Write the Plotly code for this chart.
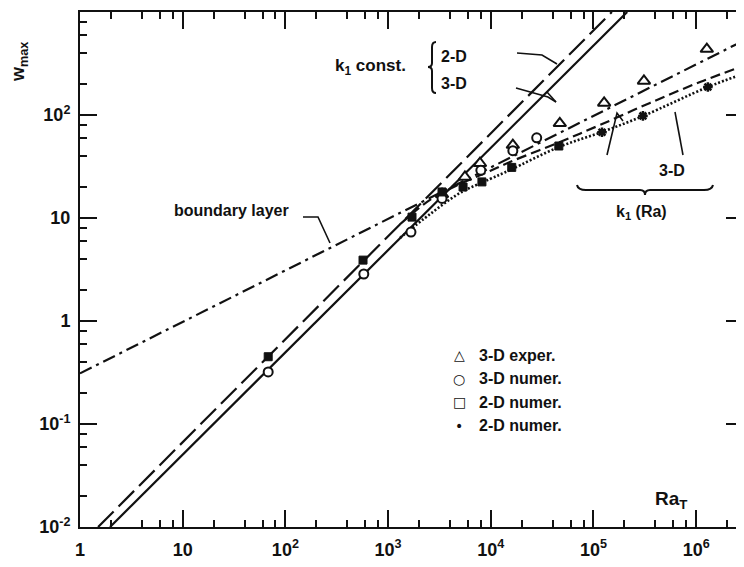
import plotly.graph_objects as go

# ---------------- data ----------------
ra_3d_exp = [3350, 5600, 7850, 16400, 47000, 127000, 310000, 1270000]
w_3d_exp = [17, 25, 34, 51, 83, 131, 214, 437]

ra_3d_num = [68, 580, 1670, 3350, 8000, 16400, 28000]
w_3d_num = [0.32, 2.86, 7.3, 15.5, 29, 45, 60]

ra_2d_num_sq = [68, 570, 1710, 3350, 5370, 8200, 16000, 46000]
w_2d_num_sq = [0.45, 3.9, 10.2, 17.9, 20, 22.4, 31, 50]

ra_2d_num_dot = [121000, 303000, 1300000]
w_2d_num_dot = [68, 98, 187]

ra_k1const_2d = [1.5, 151000]
w_k1const_2d = [0.01, 1000]
ra_k1const_3d = [1.96, 213000]
w_k1const_3d = [0.01, 1000]

ra_boundary = [1, 2.86e6]
w_boundary = [0.31, 524]

ra_k1ra_2d = [1306, 2559, 5012, 9817, 15380, 47200, 115700, 354800, 1090000, 2860000]
w_k1ra_2d = [8.7, 15.0, 21.4, 28.6, 35, 54.7, 80, 131, 209, 299]
ra_k1ra_3d = [1306, 2559, 5012, 9817, 15380, 46100, 121000, 303000, 1300000, 2860000]
w_k1ra_3d = [6.4, 10.9, 17.5, 23.9, 29.2, 48.9, 68.4, 97.7, 187, 250]

x_tickvals = [1, 10, 100, 1e3, 1e4, 1e5, 1e6]
x_ticktext = ["1", "10", "10<sup>2</sup>", "10<sup>3</sup>", "10<sup>4</sup>",
              "10<sup>5</sup>", "10<sup>6</sup>"]
y_tickvals = [1e-2, 1e-1, 1, 10, 100, 1000]
y_ticktext = ["10<sup>-2</sup>", "10<sup>-1</sup>", "1", "10", "10<sup>2</sup>", "10<sup>3</sup>"]

# ---------------- layout geometry ----------------
# the page body has an 8px default margin, so the figure is 8px smaller
OFF = 8
W, H = 744 - OFF, 567 - OFF
L, R, T, B = 80 - OFF, 1, 12 - OFF, 40
PX0, PX1 = 80, 743      # plot area in page pixels
PY0, PY1 = 12, 527


def px(x):
    return (x - PX0) / (PX1 - PX0)


def py(y):
    return (PY1 - y) / (PY1 - PY0)


FONT = "Liberation Sans, Arial, sans-serif"
SYMFONT = "DejaVu Sans"
BLACK = "#111111"

fig = go.Figure()

lw = 2.2
fig.add_trace(go.Scatter(x=ra_boundary, y=w_boundary, mode="lines",
                         line=dict(color=BLACK, width=lw, dash="13px,5px,3px,5px")))
fig.add_trace(go.Scatter(x=ra_k1const_2d, y=w_k1const_2d, mode="lines",
                         line=dict(color=BLACK, width=lw, dash="22px,7px")))
fig.add_trace(go.Scatter(x=ra_k1const_3d, y=w_k1const_3d, mode="lines",
                         line=dict(color=BLACK, width=lw)))
fig.add_trace(go.Scatter(x=ra_k1ra_2d, y=w_k1ra_2d, mode="lines",
                         line=dict(color=BLACK, width=lw, dash="10px,5px", shape="spline")))
fig.add_trace(go.Scatter(x=ra_k1ra_3d, y=w_k1ra_3d, mode="lines",
                         line=dict(color=BLACK, width=2.6, dash="2px,2px", shape="spline")))

fig.add_trace(go.Scatter(x=ra_3d_exp, y=w_3d_exp, mode="markers",
                         marker=dict(symbol="triangle-up", size=11, color="white",
                                     line=dict(color=BLACK, width=2))))
fig.add_trace(go.Scatter(x=ra_3d_num, y=w_3d_num, mode="markers",
                         marker=dict(symbol="circle", size=9, color="white",
                                     line=dict(color=BLACK, width=2))))
fig.add_trace(go.Scatter(x=ra_2d_num_sq, y=w_2d_num_sq, mode="markers",
                         marker=dict(symbol="square", size=8, color=BLACK,
                                     line=dict(color=BLACK, width=1))))
fig.add_trace(go.Scatter(x=ra_2d_num_dot, y=w_2d_num_dot, mode="markers",
                         marker=dict(symbol="asterisk-open", size=8, color=BLACK,
                                     line=dict(color=BLACK, width=2.5))))

minor_vals = []
for e in range(-3, 8):
    for m in (2, 4, 6, 8):
        minor_vals.append(m * 10 ** e)

axis_common = dict(
    type="log", showgrid=False, zeroline=False, automargin=False,
    showline=True, linecolor=BLACK, linewidth=2, mirror="ticks",
    ticks="inside", ticklen=17, tickwidth=2, tickcolor=BLACK,
    tickfont=dict(family=FONT, size=18, color=BLACK, weight="bold"),
    minor=dict(ticks="inside", ticklen=7, tickwidth=2, tickcolor=BLACK,
               tickvals=minor_vals, showgrid=False),
)

fig.update_xaxes(range=[0, 6.456], tickvals=x_tickvals, ticktext=x_ticktext,
                 ticklabelstandoff=5, **axis_common)
fig.update_yaxes(range=[-2, 3], tickvals=y_tickvals, ticktext=y_ticktext,
                 ticklabelstandoff=4, **axis_common)

ann = []


def text(x, y, s, size=16, xanchor="center", angle=0, bold=True, family=FONT):
    ann.append(dict(x=px(x), y=py(y), xref="paper", yref="paper", text=s,
                    showarrow=False, xanchor=xanchor, yanchor="middle",
                    textangle=angle,
                    font=dict(family=family, size=size, color=BLACK,
                              weight="bold" if bold else "normal")))


text(20, 62, "w<sub>max</sub>", size=18, angle=-90)
text(653, 500, "Ra<sub>T</sub>", size=19, xanchor="left")
text(333, 67, "k<sub>1</sub> const.", size=17, xanchor="left")
text(439, 57, "2-D", size=16, xanchor="left")
text(439, 83, "3-D", size=16, xanchor="left")
text(172, 210, "boundary layer", size=16, xanchor="left")
text(657, 170, "3-D", size=16, xanchor="left")
text(614, 212, "k<sub>1</sub> (Ra)", size=16, xanchor="left")

legend_rows = [("\u25B3", "3-D exper."), ("\u25CB", "3-D numer."),
               ("\u25A1", "2-D numer."), ("\u2022", "2-D numer.")]
for i, (sym, lab) in enumerate(legend_rows):
    yy = 355 + i * 23.5
    text(459, yy, sym, size=14, bold=False, family=SYMFONT)
    text(477, yy, lab, size=16, xanchor="left")

fig.update_layout(annotations=ann)


def path(points):
    return "M " + " L ".join(f"{px(a):.5f},{py(b):.5f}" for a, b in points)


shapes = []
line_style = dict(color=BLACK, width=1.6)
for pts in [
    [(303, 217), (318, 217), (330, 243)],           # boundary layer leader
    [(517, 53), (542, 55), (557, 64)],              # k1 const 2-D leader
    [(516, 88), (548, 97), (556, 102)],             # k1 const 3-D leader
    [(547, 92), (556, 102)],
    [(607, 155), (617, 113), (623, 121)],           # k1(Ra) 2-D leader
    [(675, 112), (683, 155)],                       # k1(Ra) 3-D leader
]:
    shapes.append(dict(type="path", xref="paper", yref="paper", path=path(pts),
                       line=line_style))

# braces
brace_h = ("M {a},{b} Q {c},{d} {e},{d} L {f},{d} Q {g},{d} {g},{h} "
           "Q {g},{d} {i},{d} L {j},{d} Q {k},{d} {l},{b}").format(
    a=px(577), b=py(185), c=px(578), d=py(190), e=px(586), f=px(640),
    g=px(645), h=py(195), i=px(650), j=px(704), k=px(712), l=px(713))
shapes.append(dict(type="path", xref="paper", yref="paper", path=brace_h,
                   line=dict(color=BLACK, width=2)))
brace_v = ("M {a},{b} Q {c},{b} {c},{d} L {c},{e} Q {c},{f} {g},{f} "
           "Q {c},{f} {c},{h} L {c},{i} Q {c},{j} {a},{j}").format(
    a=px(436), b=py(42), c=px(432), d=py(47), e=py(63), f=py(67), g=px(428),
    h=py(71), i=py(88), j=py(93))
shapes.append(dict(type="path", xref="paper", yref="paper", path=brace_v,
                   line=dict(color=BLACK, width=2)))

fig.update_layout(
    width=W, height=H, margin=dict(l=L, r=R, t=T, b=B),
    paper_bgcolor="white", plot_bgcolor="white", showlegend=False,
    shapes=shapes, font=dict(family=FONT, color=BLACK),
)

fig.write_html("out.html")
